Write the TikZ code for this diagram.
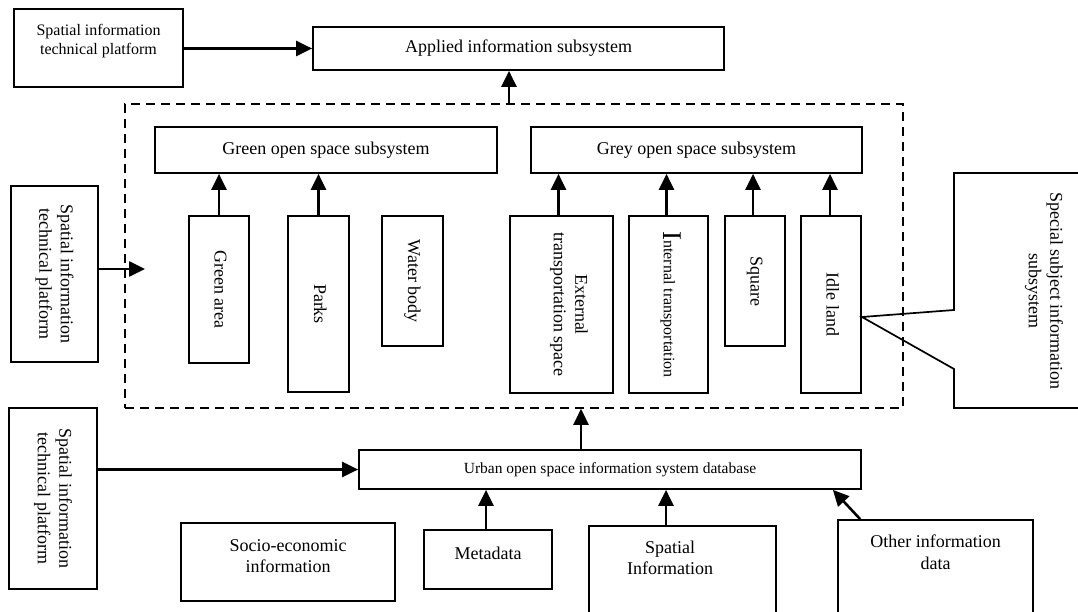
\documentclass[tikz,border=0pt]{standalone}
\usepackage{fontspec}
\setmainfont{Liberation Serif}
\usetikzlibrary{arrows.meta,calc}
\newcommand{\vtext}[1]{\rotatebox{-90}{\begin{tabular}{@{}c@{}}#1\end{tabular}}}
\begin{document}
\begin{tikzpicture}[x=1pt,y=-1pt,
  every node/.style={font=\fontsize{18}{21.5}\selectfont},
  mybox/.style={draw, line width=1.7pt, rectangle, inner sep=0pt},
  dbox/.style={draw, line width=1.6pt, rectangle, inner sep=0pt, dash pattern=on 9pt off 6pt},
  arr/.style={line width=2.6pt, -{Triangle[length=16pt,width=15pt]}},
  lbl/.style={inner sep=0pt, align=center}]
\fill[white] (0,0) rectangle (1078,612);
\useasboundingbox (0,0) rectangle (1078,612);
\clip (0,0) rectangle (1078,612);

% top
\node[mybox, minimum width=169pt, minimum height=78pt] (tl) at (98.5,48) {};
\node[lbl, font=\fontsize{16}{18.4}\selectfont] (tltext) at (98.5,41) {Spatial information\\technical platform};
\node[mybox, minimum width=411pt, minimum height=43pt] (applied) at (518.5,48.5) {Applied information subsystem};

% dashed region
\node[dbox, minimum width=778pt, minimum height=304pt] (dash) at (514,256) {};
\node[mybox, minimum width=342pt, minimum height=46pt] (green) at (326,150) {Green open space subsystem};
\node[mybox, minimum width=331pt, minimum height=46pt] (grey) at (696.5,150) {Grey open space subsystem};

\node[mybox, minimum width=60pt, minimum height=147pt] (garea) at (219,289.5) {\vtext{Green area}};
\node[mybox, minimum width=61pt, minimum height=176pt] (parks) at (318.5,304) {\vtext{Parks}};
\node[mybox, minimum width=61pt, minimum height=130pt] (water) at (412.5,281) {\vtext{Water body}};
\node[mybox, minimum width=103pt, minimum height=177pt] (ext) at (561.5,304.5) {};
\node[lbl] (exttext) at (569,304.5) {\vtext{External\\transportation space}};
\node[mybox, minimum width=79pt, minimum height=177pt] (int) at (668.5,304.5) {};
\node[lbl, font=\fontsize{16}{18}\selectfont] (inttext) at (670,304.5) {\vtext{{\fontsize{27}{27}\selectfont I}nternal transportation}};
\node[mybox, minimum width=60pt, minimum height=130pt] (square) at (755,281) {\vtext{Square}};
\node[mybox, minimum width=60pt, minimum height=177pt] (idle) at (831,304.5) {\vtext{Idle land}};

% left side
\node[mybox, minimum width=87pt, minimum height=176pt] (lm) at (54.5,274) {\vtext{Spatial information\\technical platform}};
\node[mybox, minimum width=88pt, minimum height=181pt] (ll) at (53,498.5) {\vtext{Spatial information\\technical platform}};

% database and sources
\node[mybox, minimum width=502pt, minimum height=39pt, font=\fontsize{15.5}{18}\selectfont] (db) at (610,469.5) {Urban open space information system database};
\node[mybox, minimum width=214pt, minimum height=78pt] (socio) at (288,562) {};
\node[lbl] (sociotext) at (288,556) {Socio-economic\\information};
\node[mybox, minimum width=128pt, minimum height=59pt] (meta) at (488,559.5) {};
\node[lbl] (metatext) at (488,553) {Metadata};
\node[mybox, minimum width=187pt, minimum height=114pt] (sp) at (682.5,583) {};
\node[lbl] (sptext) at (670,558) {Spatial\\Information};
\node[mybox, minimum width=195pt, minimum height=120pt] (other) at (935.5,580) {};
\node[lbl] (othertext) at (935.5,552) {Other information\\data};

% callout
\coordinate (tip) at (862,317);
\draw[line width=1.7pt] (1140,173) -- (954,173) -- (954,310) -- (tip) -- (954,369) -- (954,408) -- (1140,408);
\node[lbl] (special) at (1044,291) {\vtext{Special subject information\\subsystem}};

% connectors
\draw[arr] (tl.east |- applied.west) -- (applied.west);
\draw[arr] ([xshift=-9.5pt]applied.south |- dash.north) -- ([xshift=-9.5pt]applied.south);
\draw[arr] (garea.north) -- (garea.north |- green.south);
\draw[arr] (parks.north) -- (parks.north |- green.south);
\draw[arr] ([xshift=-3pt]ext.north) -- ([xshift=-3pt]ext.north |- grey.south);
\draw[arr] ([xshift=-2pt]int.north) -- ([xshift=-2pt]int.north |- grey.south);
\draw[arr] ([xshift=-2pt]square.north) -- ([xshift=-2pt]square.north |- grey.south);
\draw[arr] ([xshift=-1pt]idle.north) -- ([xshift=-1pt]idle.north |- grey.south);
\coordinate (lmin) at (145,269);
\draw[arr] (lm.east |- lmin) -- (lmin);
\draw[arr] (ll.east |- db.west) -- (db.west);
\draw[arr] ([xshift=-29pt]db.north) -- ([xshift=-29pt]db.north |- dash.south);
\draw[arr] ([xshift=-2pt]meta.north) -- ([xshift=-2pt]meta.north |- db.south);
\draw[arr] ([xshift=-16.5pt]sp.north) -- ([xshift=-16.5pt]sp.north |- db.south);
\draw[arr] ([xshift=23pt]other.north west) -- ([xshift=-29pt]db.south east);
\end{tikzpicture}
\end{document}
